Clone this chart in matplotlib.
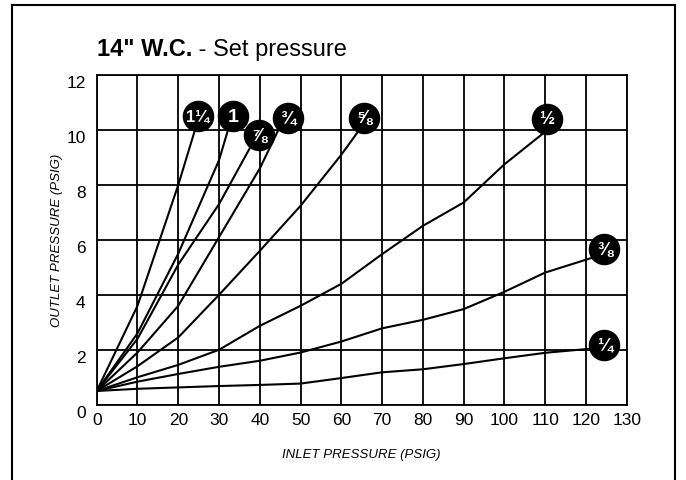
import matplotlib
matplotlib.use("Agg")
import matplotlib.pyplot as plt
import matplotlib.transforms as mtransforms
from matplotlib.lines import Line2D

plt.rcParams['font.family'] = ['Liberation Sans', 'DejaVu Sans']

# data: outlet pressure vs inlet pressure, one curve per orifice size
x_1_1_4 = [0, 10, 20, 24.1]
y_1_1_4 = [0.5, 3.6, 8.0, 10.0]

x_1 = [0, 10, 20, 30, 32.2]
y_1 = [0.5, 2.6, 5.5, 8.9, 10.0]

x_7_8 = [0, 10, 20, 30, 38.7]
y_7_8 = [0.5, 2.4, 5.1, 7.3, 9.65]

x_3_4 = [0, 10, 20, 30, 40, 45.2]
y_3_4 = [0.5, 1.9, 3.6, 6.1, 8.6, 10.2]

x_5_8 = [0, 10, 20, 30, 40, 50, 60, 64.4]
y_5_8 = [0.5, 1.4, 2.45, 4.0, 5.6, 7.24, 9.1, 10.0]

x_1_2 = [0, 10, 20, 30, 40, 50, 60, 70, 80, 90, 100, 109.2]
y_1_2 = [0.5, 1.0, 1.45, 2.0, 2.87, 3.6, 4.4, 5.48, 6.51, 7.36, 8.75, 9.84]

x_3_8 = [0, 10, 20, 30, 40, 50, 60, 70, 80, 90, 100, 110, 122]
y_3_8 = [0.5, 0.84, 1.12, 1.38, 1.6, 1.9, 2.3, 2.78, 3.09, 3.48, 4.11, 4.81, 5.37]

x_1_4 = [0, 10, 20, 30, 40, 50, 60, 70, 80, 90, 100, 110, 122]
y_1_4 = [0.5, 0.58, 0.63, 0.68, 0.72, 0.77, 0.97, 1.18, 1.29, 1.48, 1.69, 1.89, 2.05]

series = [(x_1_1_4, y_1_1_4), (x_1, y_1), (x_7_8, y_7_8), (x_3_4, y_3_4),
          (x_5_8, y_5_8), (x_1_2, y_1_2), (x_3_8, y_3_8), (x_1_4, y_1_4)]

# size labels and where their badges sit
sizes = ['1\u00bc', '1', '\u215e', '\u00be', '\u215d', '\u00bd', '\u215c', '\u00bc']
label_x = [24.8, 33.4, 39.7, 46.8, 65.6, 110.4, 124.5, 124.5]
label_y = [10.5, 10.5, 9.8, 10.45, 10.45, 10.4, 5.66, 2.18]

x_ticks = list(range(0, 131, 10))
y_ticks = list(range(0, 13, 2))

fig = plt.figure(figsize=(6.86, 4.81), dpi=100)
ax = fig.add_axes([0.141, 0.1565, 0.7726, 0.6855])

for xs, ys in series:
    ax.plot(xs, ys, color='black', lw=1.5, solid_joinstyle='round', zorder=3)

ax.scatter(label_x, label_y, s=470, color='black', zorder=4, clip_on=False)
for lx, ly, s in zip(label_x, label_y, sizes):
    if s == '1':
        fs = 14
    elif len(s) == 2:
        fs = 12
    else:
        fs = 13
    ax.text(lx, ly, s, color='white', fontsize=fs, fontweight='bold',
            ha='center', va='center', zorder=5)

ax.set_xlim(0, 130)
ax.set_ylim(0, 12)
ax.set_xticks(x_ticks)
ax.set_yticks(y_ticks)
ax.grid(True, color='black', lw=1.3)
ax.set_axisbelow(True)
for sp in ax.spines.values():
    sp.set_linewidth(1.3)
ax.tick_params(length=0, labelsize=12.5, pad=5)
ax.tick_params(axis='y', pad=8)

# y tick labels sit a bit below their grid lines
offset = mtransforms.ScaledTranslation(0, -0.06, fig.dpi_scale_trans)
for lab in ax.get_yticklabels():
    lab.set_transform(lab.get_transform() + offset)

ax.set_xlabel('INLET PRESSURE (PSIG)', style='italic', fontsize=9.5,
              labelpad=15)
ax.set_ylabel('OUTLET PRESSURE (PSIG)', style='italic', fontsize=9.5,
              labelpad=2)

# title in two weights
t1 = fig.text(97 / 686, 1 - 56 / 481, '14" W.C.', fontsize=17,
              fontweight='bold', va='baseline', ha='left')
ax.annotate(' - Set pressure', xy=(1, 0), xycoords=t1, fontsize=17,
            va='bottom', ha='left', annotation_clip=False)

# outer frame, open at the bottom
W, H = 686, 481
fr = dict(color='black', lw=1.5, transform=fig.transFigure)
fig.add_artist(Line2D([12 / W, 12 / W], [0, 1 - 6 / H], **fr))
fig.add_artist(Line2D([12 / W, 675 / W], [1 - 6 / H, 1 - 6 / H], **fr))
fig.add_artist(Line2D([675 / W, 675 / W], [0, 1 - 6 / H], **fr))

fig.savefig('out.png', dpi=100)
